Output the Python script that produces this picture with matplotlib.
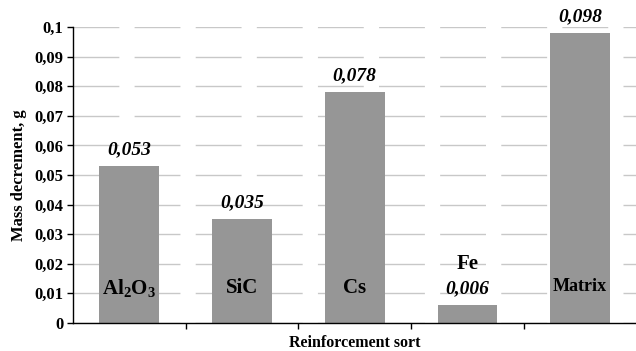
import matplotlib
matplotlib.use("Agg")
import matplotlib.pyplot as plt
from matplotlib.ticker import FuncFormatter, MultipleLocator

# Mass loss per reinforcement type
categories = ["Al$_2$O$_3$", "SiC", "Cs", "Fe", "Matrix"]
mass_decrement = [0.053, 0.035, 0.078, 0.006, 0.098]
value_labels = ["0,053", "0,035", "0,078", "0,006", "0,098"]

plt.rcParams["font.family"] = ["Liberation Serif", "DejaVu Serif"]
plt.rcParams["mathtext.fontset"] = "custom"
plt.rcParams["mathtext.rm"] = "Liberation Serif:bold"
plt.rcParams["mathtext.it"] = "Liberation Serif:bold"

fig = plt.figure(figsize=(6.36, 3.51), dpi=100)
ax = fig.add_axes([0.1148, 0.080, 0.886, 0.843])

x = list(range(len(categories)))
ax.bar(x, mass_decrement, width=0.53, color="#969696", zorder=2)

ax.set_xlim(-0.5, len(categories) - 0.5)
ax.set_ylim(0, 0.1)
ax.yaxis.set_major_locator(MultipleLocator(0.01))

def comma_fmt(v, pos):
    if abs(v) < 1e-9:
        return "0"
    return ("%.2f" % v).rstrip("0").replace(".", ",")

ax.yaxis.set_major_formatter(FuncFormatter(comma_fmt))
ax.tick_params(axis="y", labelsize=12, direction="out", length=4, width=1, pad=3)
for t in ax.yaxis.get_ticklabels():
    t.set_fontweight("bold")

# Ticks on the x axis sit between the categories
ax.set_xticks([i + 0.5 for i in x[:-1]])
ax.set_xticklabels([])
ax.tick_params(axis="x", direction="out", length=4, width=1)

ax.yaxis.grid(True, color="#c8c8c8", linewidth=1.0, linestyle=(0, (33, 11)), zorder=0)
ax.set_axisbelow(True)

for side in ("top", "right"):
    ax.spines[side].set_visible(False)
for side in ("left", "bottom"):
    ax.spines[side].set_color("#000000")
    ax.spines[side].set_linewidth(1.0)

# Value labels above each bar
for xi, v, s in zip(x, mass_decrement, value_labels):
    ax.annotate(s, (xi, v), xytext=(0, 12), textcoords="offset points",
                ha="center", va="center", fontsize=14,
                fontweight="bold", fontstyle="italic")

# Category names written on the bars
for xi, name, v in zip(x, categories, mass_decrement):
    if name == "Fe":
        ax.text(xi, 0.0199, name, ha="center", va="center",
                fontsize=15, fontweight="bold")
    elif name == "Matrix":
        ax.text(xi, 0.0122, name, ha="center", va="center",
                fontsize=13, fontweight="bold")
    else:
        ax.text(xi, 0.0118, name, ha="center", va="center",
                fontsize=15, fontweight="bold")

ax.set_ylabel("Mass decrement, g", fontsize=12, fontweight="bold", labelpad=5)
ax.set_xlabel("Reinforcement sort", fontsize=11.5, fontweight="bold", labelpad=1)

fig.savefig("out.png", dpi=100)
